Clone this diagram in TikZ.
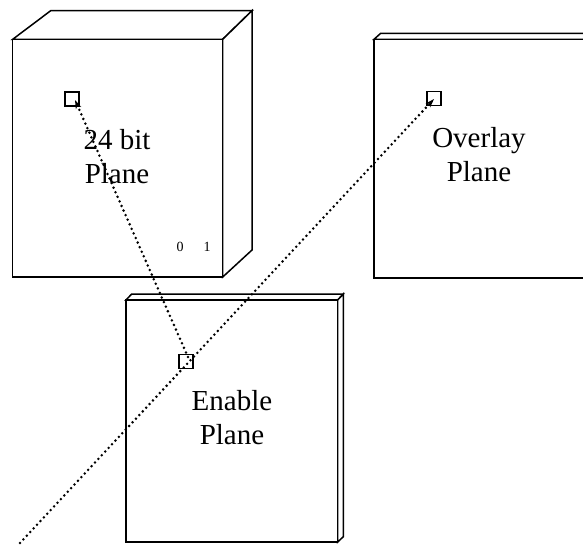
\documentclass[tikz,border=0pt]{standalone}
\usepackage{fontspec}
\setmainfont{Liberation Serif}
\usetikzlibrary{arrows.meta}
\begin{document}
\begin{tikzpicture}[x=1pt,y=-1pt,
  face/.style={draw=black,line width=1.5pt,fill=white,line join=miter},
  pix/.style={draw=black,line width=1.4pt,minimum size=14pt,inner sep=0pt},
  label/.style={font=\fontsize{29}{34}\selectfont,align=center,inner sep=0pt},
  small/.style={font=\fontsize{14}{16}\selectfont,inner sep=0pt},
  ray/.style={line width=2.8pt,line cap=round,dash pattern=on 0pt off 5pt,
    -{Stealth[length=9pt,width=6pt,line width=0pt,line cap=butt]}}]
\useasboundingbox (0,0) rectangle (583,544);
\clip (0,0) rectangle (583,544);
% 24 bit plane box
\draw[face] (12.7,39.3) -- (50.7,10.7) -- (252,10.7) -- (222.7,39.3) -- cycle;
\draw[face] (222.7,39.3) -- (252,10.7) -- (252,250) -- (222.7,277) -- cycle;
\draw[face] (12.7,39.3) rectangle (222.7,277);
% overlay plane box
\draw[face] (374,39.3) -- (380.7,33.3) -- (600,33.3) -- (600,39.3) -- cycle;
\draw[face] (374,39.3) rectangle (600,278);
% enable plane box
\draw[face] (126,300) -- (131.7,294) -- (343.3,294) -- (337.7,300) -- cycle;
\draw[face] (337.7,300) -- (343.3,294) -- (343.3,536.7) -- (337.7,542) -- cycle;
\draw[face] (126,300) rectangle (337.7,542);
% labels
\node[label] (t24) at (117,157) {24 bit\\Plane};
\node[label] (tov) at (479,155) {Overlay\\Plane};
\node[label] (ten) at (232,418) {Enable\\Plane};
\node[small] (z0) at (180,247) {0};
\node[small] (z1) at (207,247) {1};
% pixel squares
\node[pix] (p24) at (72,99) {};
\node[pix] (pov) at (434,98.5) {};
\node[pix] (pen) at (186,361.5) {};
\coordinate (a24) at (75,100);
\coordinate (aov) at (434,99);
\coordinate (sen) at (188,357);
\coordinate (src) at (20,543);
% rays
\draw[ray] (sen) -- (a24);
\draw[ray] (src) -- (aov);
\end{tikzpicture}
\end{document}
